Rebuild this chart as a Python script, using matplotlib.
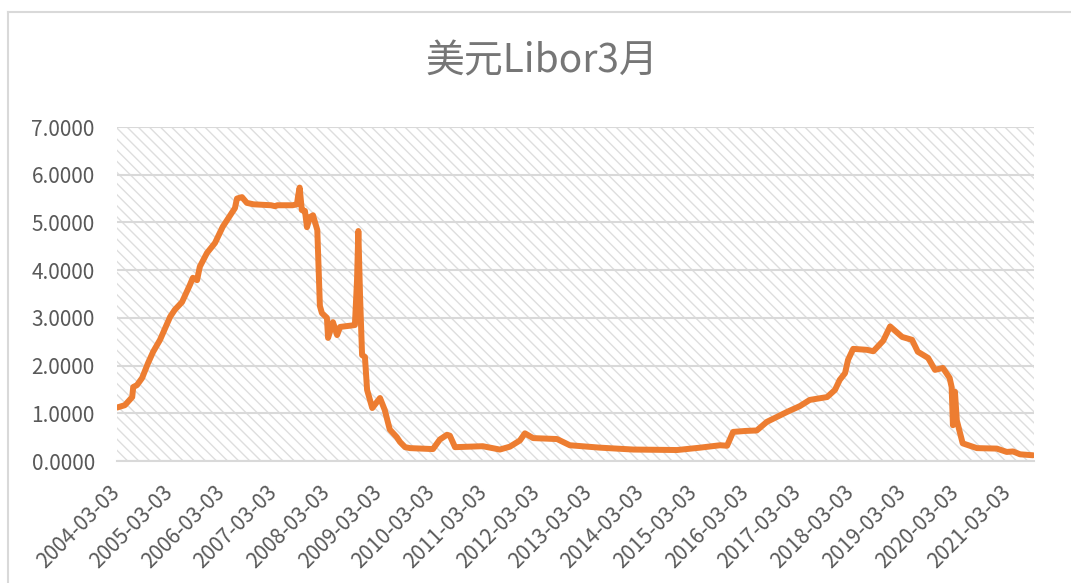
import matplotlib
matplotlib.use("Agg")
import matplotlib.pyplot as plt
from matplotlib.patches import Rectangle
from matplotlib.lines import Line2D
import pandas as pd

plt.rcParams['font.family'] = ['Noto Sans CJK SC', 'DejaVu Sans']
plt.rcParams['hatch.linewidth'] = 1.0

title = "美元Libor3月"

# 日付と3ヶ月Libor
dates = [
    "2004-03-03", "2004-04-27", "2004-06-17", "2004-06-24", "2004-07-20", "2004-08-25",
    "2004-10-05", "2004-11-10", "2004-12-28", "2005-03-08", "2005-04-10", "2005-05-30",
    "2005-07-24", "2005-08-14", "2005-09-12", "2005-10-01", "2005-11-20", "2006-01-15",
    "2006-03-10", "2006-05-12", "2006-06-03", "2006-06-17", "2006-07-22", "2006-08-25",
    "2006-10-10", "2006-12-10", "2007-02-10", "2007-03-10", "2007-03-25", "2007-05-10",
    "2007-07-10", "2007-08-09", "2007-08-18", "2007-08-28", "2007-09-12", "2007-10-04",
    "2007-10-18", "2007-11-07", "2007-11-29", "2007-12-29", "2008-01-16", "2008-01-30",
    "2008-03-05", "2008-03-13", "2008-04-16", "2008-05-15", "2008-06-05", "2008-08-25",
    "2008-09-16", "2008-10-01", "2008-10-10", "2008-10-22", "2008-11-05", "2008-11-25",
    "2008-12-10", "2009-01-15", "2009-03-10", "2009-04-12", "2009-05-17", "2009-07-05",
    "2009-07-27", "2009-09-01", "2009-10-05", "2010-03-14", "2010-05-01", "2010-06-20",
    "2010-07-10", "2010-08-15", "2011-02-24", "2011-06-23", "2011-09-01", "2011-11-10",
    "2011-12-15", "2012-02-10", "2012-07-26", "2012-10-23", "2013-05-20", "2014-01-08",
    "2014-11-10", "2015-04-20", "2015-09-05", "2015-10-24", "2015-12-05", "2016-03-01",
    "2016-05-18", "2016-07-27", "2016-12-16", "2017-03-14", "2017-05-22", "2017-09-20",
    "2017-11-14", "2017-12-17", "2018-01-23", "2018-02-13", "2018-03-21", "2018-06-25",
    "2018-08-08", "2018-10-16", "2018-12-03", "2019-02-25", "2019-05-05", "2019-06-14",
    "2019-08-25", "2019-10-12", "2019-12-06", "2020-01-22", "2020-02-05", "2020-02-14",
    "2020-02-28", "2020-03-12", "2020-04-22", "2020-07-30", "2020-12-16", "2021-02-23",
    "2021-04-08", "2021-05-27", "2021-08-25",
]
libor = [
    1.12, 1.17, 1.34, 1.55, 1.59, 1.74,
    2.05, 2.29, 2.54, 3.02, 3.17, 3.33,
    3.69, 3.84, 3.79, 4.07, 4.36, 4.57,
    4.91, 5.20, 5.30, 5.50, 5.53, 5.41,
    5.38, 5.37, 5.36, 5.34, 5.36, 5.36,
    5.36, 5.38, 5.57, 5.73, 5.26, 5.24,
    4.90, 5.11, 5.15, 4.84, 3.25, 3.10,
    3.00, 2.58, 2.91, 2.64, 2.81, 2.84,
    2.85, 3.80, 4.82, 3.45, 2.22, 2.18,
    1.49, 1.11, 1.32, 1.07, 0.66, 0.50,
    0.40, 0.29, 0.27, 0.25, 0.45, 0.55,
    0.53, 0.29, 0.31, 0.24, 0.30, 0.43,
    0.58, 0.48, 0.46, 0.33, 0.28, 0.24,
    0.23, 0.28, 0.33, 0.32, 0.61, 0.63,
    0.64, 0.82, 1.03, 1.15, 1.28, 1.34,
    1.49, 1.70, 1.84, 2.12, 2.35, 2.33,
    2.30, 2.52, 2.82, 2.60, 2.54, 2.29,
    2.16, 1.91, 1.95, 1.74, 1.55, 0.75,
    1.45, 0.85, 0.37, 0.27, 0.26, 0.19,
    0.20, 0.14, 0.12,
]

tick_labels = [
    "2004-03-03", "2005-03-03", "2006-03-03", "2007-03-03", "2008-03-03", "2009-03-03",
    "2010-03-03", "2011-03-03", "2012-03-03", "2013-03-03", "2014-03-03", "2015-03-03",
    "2016-03-03", "2017-03-03", "2018-03-03", "2019-03-03", "2020-03-03", "2021-03-03",
]

df = pd.DataFrame({"date": pd.to_datetime(dates), "libor": libor})

fig = plt.figure(figsize=(10.71, 5.83), dpi=100)
ax = fig.add_axes([117 / 1071, 1 - 461 / 583, 917 / 1071, 334 / 583])

# 斜線の背景
ax.add_patch(Rectangle((0, 0), 1, 1, transform=ax.transAxes, facecolor="white",
                       edgecolor="#dedede", hatch="\\\\\\", lw=0, zorder=0))

ax.plot(df["date"], df["libor"], color="#ED7D31", lw=4.3, solid_joinstyle="round",
        solid_capstyle="round", zorder=3)

ax.set_ylim(0, 7)
ax.set_xlim(pd.Timestamp("2004-03-03"), pd.Timestamp("2021-09-01"))
ax.set_yticks(range(0, 8))
ax.set_yticklabels([f"{v:.4f}" for v in range(0, 8)], fontsize=15, color="#595959")
ax.set_xticks(pd.to_datetime(tick_labels))
ax.set_xticklabels(tick_labels, rotation=45, ha="right", va="center",
                   rotation_mode="anchor", fontsize=15, color="#595959")
ax.tick_params(axis="y", length=0, pad=16)
ax.tick_params(axis="x", length=0, pad=20)

ax.set_axisbelow(True)
ax.yaxis.grid(True, color="#d9d9d9", lw=1.5)
for s in ["top", "right", "left"]:
    ax.spines[s].set_visible(False)
ax.spines["bottom"].set_color("#d9d9d9")
ax.spines["bottom"].set_linewidth(1.5)

fig.text(0.506, 0.894, title, ha="center", va="center", fontsize=28, color="#767676")

# グラフエリアの枠
fig.add_artist(Line2D([8 / 1071, 8 / 1071], [0, 1 - 12 / 583], color="#d9d9d9", lw=1.5))
fig.add_artist(Line2D([8 / 1071, 1], [1 - 12 / 583, 1 - 12 / 583], color="#d9d9d9", lw=1.5))

fig.savefig("out.png", dpi=100)
